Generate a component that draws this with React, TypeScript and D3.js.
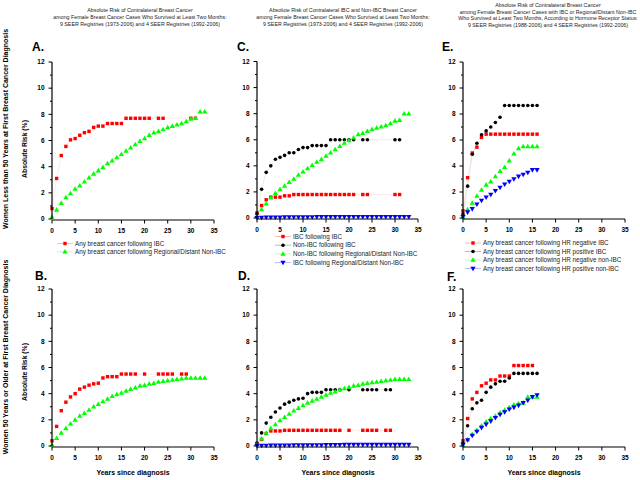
import React from "react";
import * as d3 from "d3";

type V = number | null;

// ---------- data ----------
const yTicks = [0, 2, 4, 6, 8, 10, 12];
const xTicks = [0, 5, 10, 15, 20, 25, 30, 35];

// Panel A (women < 50)
const aIBC: V[] = [0.8, 3.1, 4.85, 5.55, 6.05, 6.15, 6.4, 6.6, 6.7, 7.0, 7.1, 7.1, 7.3, 7.3, 7.3, 7.3, 7.7, 7.7, 7.7, 7.7, 7.7, 7.7, null, 7.7, 7.7, null, null, null, null, null, 7.7, 7.7];
const aNonIBC: V[] = [0.15, 0.7, 1.2, 1.65, 1.95, 2.3, 2.55, 2.85, 3.15, 3.45, 3.7, 3.95, 4.25, 4.45, 4.7, 4.95, 5.2, 5.45, 5.7, 5.95, 6.15, 6.4, 6.6, 6.7, 6.85, 7.0, 7.1, 7.2, 7.3, 7.45, 7.65, 7.7, 8.2, 8.2];

// Panel B (women >= 50)
const bIBC: V[] = [0.4, 1.5, 2.7, 3.35, 3.75, 4.0, 4.35, 4.5, 4.65, 4.75, 4.8, 5.2, 5.3, 5.3, 5.3, 5.5, 5.5, 5.5, 5.5, null, 5.5, null, null, 5.5, 5.5, 5.5, 5.5, null, 5.5, 5.5];
const bNonIBC: V[] = [0.1, 0.6, 1.0, 1.35, 1.7, 2.0, 2.3, 2.5, 2.75, 3.0, 3.2, 3.4, 3.6, 3.8, 3.95, 4.05, 4.2, 4.35, 4.45, 4.6, 4.65, 4.75, 4.8, 4.9, 4.95, 5.0, 5.05, 5.1, 5.15, 5.2, 5.2, 5.2, 5.2, 5.2];

// Panel C (women < 50)
const cIBCfIBC: V[] = [0.4, 0.95, 1.4, 1.6, 1.6, 1.6, 1.7, 1.7, 1.8, 1.8, 1.8, 1.8, 1.8, 1.8, 1.8, 1.8, 1.8, 1.8, 1.8, 1.8, 1.8, 1.8, null, 1.8, 1.8, null, null, null, null, null, 1.8, 1.8];
const cNonfIBC: V[] = [0.3, 2.2, 3.5, 4.0, 4.5, 4.65, 4.8, 5.0, 5.0, 5.25, 5.4, 5.4, 5.55, 5.55, 5.55, 5.55, 6.0, 6.0, 6.0, 6.0, 6.0, 6.0, null, 6.0, 6.0, null, null, null, null, null, 6.0, 6.0];
const cNonfNon: V[] = [0.1, 0.65, 1.1, 1.55, 1.9, 2.2, 2.45, 2.75, 3.0, 3.3, 3.55, 3.8, 4.05, 4.3, 4.5, 4.75, 5.0, 5.25, 5.5, 5.75, 5.95, 6.15, 6.4, 6.5, 6.65, 6.8, 6.9, 7.0, 7.1, 7.25, 7.45, 7.5, 8.0, 8.0];
const cIBCfNon: V[] = [0.02, 0.04, 0.05, 0.05, 0.06, 0.06, 0.07, 0.07, 0.07, 0.08, 0.08, 0.08, 0.08, 0.09, 0.09, 0.09, 0.09, 0.09, 0.1, 0.1, 0.1, 0.1, 0.1, 0.1, 0.1, 0.1, 0.1, 0.1, 0.1, 0.1, 0.1, 0.1, 0.1, 0.1];

// Panel D (women >= 50)
const dIBCfIBC: V[] = [0.2, 0.5, 0.95, 1.15, 1.15, 1.15, 1.2, 1.2, 1.2, 1.2, 1.2, 1.2, 1.2, 1.2, 1.2, 1.2, 1.2, 1.2, 1.2, null, 1.2, null, null, 1.2, 1.2, 1.2, 1.2, null, 1.2, 1.2];
const dNonfIBC: V[] = [0.2, 1.0, 1.75, 2.2, 2.6, 2.9, 3.2, 3.35, 3.5, 3.6, 3.65, 4.0, 4.1, 4.1, 4.1, 4.3, 4.3, 4.3, 4.3, null, 4.3, null, null, 4.3, 4.3, 4.3, 4.3, null, 4.3, 4.3];
const dNonfNon: V[] = [0.15, 0.55, 1.0, 1.35, 1.65, 1.95, 2.2, 2.45, 2.7, 2.9, 3.1, 3.3, 3.45, 3.6, 3.75, 3.9, 4.05, 4.15, 4.3, 4.4, 4.5, 4.6, 4.65, 4.75, 4.8, 4.85, 4.9, 4.95, 5.0, 5.05, 5.1, 5.1, 5.1, 5.1];
const dIBCfNon: V[] = [0.02, 0.03, 0.04, 0.05, 0.05, 0.06, 0.06, 0.06, 0.07, 0.07, 0.07, 0.08, 0.08, 0.08, 0.08, 0.09, 0.09, 0.09, 0.09, 0.1, 0.1, 0.1, 0.1, 0.1, 0.1, 0.1, 0.1, 0.1, 0.1, 0.1, 0.1, 0.1, 0.1, 0.1];

// Panel E (women < 50, hormone receptor status)
const eHRnegIBC: V[] = [0.55, 3.1, 5.0, 5.45, 6.2, 6.45, 6.45, 6.45, 6.45, 6.45, 6.45, 6.45, 6.45, 6.45, 6.45, 6.45, 6.45];
const eHRposIBC: V[] = [0.3, 2.45, 4.9, 5.75, 6.4, 6.7, 7.0, 7.35, 7.75, 8.65, 8.65, 8.65, 8.65, 8.65, 8.65, 8.65, 8.65];
const eHRnegNon: V[] = [0.05, 0.65, 1.15, 1.7, 2.15, 2.55, 2.8, 3.2, 3.6, 3.9, 4.4, 4.95, 5.35, 5.5, 5.5, 5.5, 5.5];
const eHRposNon: V[] = [0.1, 0.45, 0.7, 1.05, 1.35, 1.6, 1.8, 2.1, 2.35, 2.6, 2.8, 3.0, 3.2, 3.35, 3.5, 3.7, 3.7];

// Panel F (women >= 50, hormone receptor status)
const fHRnegIBC: V[] = [0.4, 2.1, 3.6, 4.1, 4.6, 4.8, 5.05, 5.05, 5.35, 5.35, 5.35, 6.15, 6.15, 6.15, 6.15, 6.15];
const fHRposIBC: V[] = [0.2, 1.55, 2.85, 3.3, 3.5, 4.1, 4.5, 4.75, 4.95, 4.95, 5.2, 5.55, 5.55, 5.55, 5.55, 5.55, 5.55];
const fHRnegNon: V[] = [0.05, 0.5, 0.9, 1.2, 1.55, 1.85, 2.1, 2.3, 2.55, 2.75, 2.95, 3.15, 3.25, 3.3, 3.75, 3.75, 3.75];
const fHRposNon: V[] = [0.1, 0.45, 0.8, 1.1, 1.4, 1.65, 1.9, 2.15, 2.4, 2.6, 2.8, 2.95, 3.1, 3.3, 3.5, 3.75, 3.9];

const legendAB = ["Any breast cancer following IBC", "Any breast cancer following Regional/Distant Non-IBC"];
const legendCD = ["IBC following IBC", "Non-IBC following IBC", "Non-IBC following Regional/Distant Non-IBC", "IBC following Regional/Distant Non-IBC"];
const legendEF = ["Any breast cancer following HR negative IBC", "Any breast cancer following HR positive IBC", "Any breast cancer following HR negative non-IBC", "Any breast cancer following HR positive non-IBC"];

const titleA = ["Absolute Risk of Contralateral Breast Cancer", "among Female Breast Cancer Cases Who Survived at Least Two Months:", "9 SEER Registries (1973-2006) and 4 SEER Registries (1992-2006)"];
const titleC = ["Absolute Risk of Contralateral IBC and Non-IBC Breast Cancer", "among Female Breast Cancer Cases Who Survived at Least Two Months:", "9 SEER Registries (1973-2006) and 4 SEER Registries (1992-2006)"];
const titleE = ["Absolute Risk of Contralateral Breast Cancer", "among Female Breast Cancer Cases with IBC or Regional/Distant Non-IBC", "Who Survived at Least Two Months, According to Hormone Receptor Status:", "9 SEER Registries (1988-2006) and 4 SEER Registries (1992-2006)"];

// ---------- styles ----------
type Shape = "square" | "circle" | "triUp" | "triDown";
const RED = "#ff0000", BLACK = "#000000", GREEN = "#00ff00", BLUE = "#0000ff";
const FONT = "'Liberation Sans', Arial, Helvetica, sans-serif";

interface Series { values: V[]; color: string; shape: Shape }

function Marker({ x, y, shape, color }: { x: number; y: number; shape: Shape; color: string }) {
  if (shape === "square") return <rect x={x - 1.7} y={y - 1.7} width={3.4} height={3.4} fill={color} />;
  if (shape === "circle") return <circle cx={x} cy={y} r={1.8} fill={color} />;
  const sym = d3.symbol().type(d3.symbolTriangle).size(12)();
  return <path d={sym || ""} transform={`translate(${x},${y + (shape === "triDown" ? -0.3 : 0.3)}) rotate(${shape === "triDown" ? 180 : 0})`} fill={color} />;
}

interface PanelProps {
  x0: number; x1: number; yTop: number; yBot: number;
  series: Series[]; letter: string; lx: number; ly: number;
}

function Panel({ x0, x1, yTop, yBot, series, letter, lx, ly }: PanelProps) {
  const xs = d3.scaleLinear().domain([0, 35]).range([x0, x1]);
  const ys = d3.scaleLinear().domain([0, 12]).range([yBot, yTop]);
  const minor = d3.range(0, 13, 1);
  return (
    <g>
      <text x={lx} y={ly} fontSize={12} fontWeight="bold" fontFamily={FONT}>{letter}</text>
      {series.map((s, si) => {
        const pts = s.values.map((v, i) => (v == null ? null : [i, v] as [number, number])).filter(Boolean) as [number, number][];
        const line = d3.line<[number, number]>().x((d) => xs(d[0])).y((d) => ys(d[1]));
        return (
          <g key={si}>
            <path d={line(pts) || ""} fill="none" stroke={s.color} strokeOpacity={0.15} strokeWidth={0.6} />
            {pts.map((p, i) => <Marker key={i} x={xs(p[0])} y={ys(p[1])} shape={s.shape} color={s.color} />)}
          </g>
        );
      })}
      {/* y axis */}
      <line x1={x0} x2={x0} y1={ys(0)} y2={ys(12)} stroke="#000" strokeWidth={1.2} />
      {minor.map((t) => (
        <line key={t} x1={x0 - (t % 2 === 0 ? 3.5 : 2)} x2={x0} y1={ys(t)} y2={ys(t)} stroke="#000" strokeWidth={1} />
      ))}
      {yTicks.map((t) => (
        <text key={t} x={x0 - 7.5} y={ys(t)} dy="0.35em" textAnchor="end" fontSize={6.5} fontWeight="bold" fontFamily={FONT}>{t}</text>
      ))}
      {/* x axis */}
      <line x1={xs(0)} x2={xs(35)} y1={yBot + 1} y2={yBot + 1} stroke="#000" strokeWidth={1.2} />
      {xTicks.map((t) => (
        <g key={t}>
          <line x1={xs(t)} x2={xs(t)} y1={yBot + 1} y2={yBot + 4.5} stroke="#000" strokeWidth={1} />
          <text x={xs(t)} y={yBot + 13.5} textAnchor="middle" fontSize={6.5} fontWeight="bold" fontFamily={FONT}>{t}</text>
        </g>
      ))}
    </g>
  );
}

function Legend({ x, y, dy, labels, series }: { x: number; y: number; dy: number; labels: string[]; series: Series[] }) {
  return (
    <g>
      {labels.map((l, i) => (
        <g key={i}>
          <line x1={x - 8} x2={x + 8} y1={y + i * dy} y2={y + i * dy} stroke={series[i].color} strokeOpacity={0.35} strokeWidth={0.8} />
          <Marker x={x} y={y + i * dy} shape={series[i].shape} color={series[i].color} />
          <text x={x + 10} y={y + i * dy} dy="0.35em" fontSize={6.3} fontFamily={FONT} fill="#222">{l}</text>
        </g>
      ))}
    </g>
  );
}

function Title({ cx, y, lines, dy }: { cx: number; y: number; lines: string[]; dy: number }) {
  return (
    <g>
      {lines.map((l, i) => (
        <text key={i} x={cx} y={y + i * dy} textAnchor="middle" fontSize={5.3} fontFamily={FONT} fill="#222">{l}</text>
      ))}
    </g>
  );
}

export default function App() {
  const sAB = (ibc: V[], non: V[]): Series[] => [
    { values: ibc, color: RED, shape: "square" },
    { values: non, color: GREEN, shape: "triUp" },
  ];
  const sCD = (a: V[], b: V[], c: V[], d: V[]): Series[] => [
    { values: a, color: RED, shape: "square" },
    { values: b, color: BLACK, shape: "circle" },
    { values: c, color: GREEN, shape: "triUp" },
    { values: d, color: BLUE, shape: "triDown" },
  ];
  const A = sAB(aIBC, aNonIBC), B = sAB(bIBC, bNonIBC);
  const C = sCD(cIBCfIBC, cNonfIBC, cNonfNon, cIBCfNon), D = sCD(dIBCfIBC, dNonfIBC, dNonfNon, dIBCfNon);
  const E = sCD(eHRnegIBC, eHRposIBC, eHRnegNon, eHRposNon), F = sCD(fHRnegIBC, fHRposIBC, fHRnegNon, fHRposNon);

  return (
    <svg width={640} height={480} style={{ position: "absolute", left: 0, top: 0, background: "#fff" }}>
      <rect width={640} height={480} fill="#fff" />
      <Title cx={140} y={12} lines={titleA} dy={7} />
      <Title cx={343} y={12} lines={titleC} dy={7} />
      <Title cx={548} y={7} lines={titleE} dy={6.7} />

      <Panel x0={52} x1={214} yTop={62} yBot={219} series={A} letter="A." lx={32} ly={51} />
      <Panel x0={52} x1={214} yTop={289} yBot={446} series={B} letter="B." lx={35} ly={280} />
      <Panel x0={257} x1={418} yTop={61.5} yBot={218} series={C} letter="C." lx={237} ly={51} />
      <Panel x0={257} x1={418} yTop={289} yBot={446} series={D} letter="D." lx={238} ly={280} />
      <Panel x0={463} x1={625} yTop={62} yBot={218} series={E} letter="E." lx={442} ly={51} />
      <Panel x0={463} x1={625} yTop={289} yBot={446} series={F} letter="F." lx={447} ly={281} />

      <Legend x={65} y={243.5} dy={8.3} labels={legendAB} series={A} />
      <Legend x={283} y={236.5} dy={8.7} labels={legendCD} series={C} />
      <Legend x={473} y={243} dy={8.5} labels={legendEF} series={E} />

      {/* row labels */}
      <text transform="translate(7.5,129) rotate(-90)" textAnchor="middle" fontSize={7} fontWeight="bold" fontFamily={FONT}>Women Less than 50 Years at First Breast Cancer Diagnosis</text>
      <text transform="translate(7.5,357) rotate(-90)" textAnchor="middle" fontSize={7} fontWeight="bold" fontFamily={FONT}>Women 50 Years or Older at First Breast Cancer Diagnosis</text>
      <text transform="translate(26.5,149) rotate(-90)" textAnchor="middle" fontSize={6.8} fontWeight="bold" fontFamily={FONT}>Absolute Risk (%)</text>
      <text transform="translate(26.5,372) rotate(-90)" textAnchor="middle" fontSize={6.8} fontWeight="bold" fontFamily={FONT}>Absolute Risk (%)</text>

      <text x={133} y={475} textAnchor="middle" fontSize={7} fontWeight="bold" fontFamily={FONT}>Years since diagnosis</text>
      <text x={338} y={475} textAnchor="middle" fontSize={7} fontWeight="bold" fontFamily={FONT}>Years since diagnosis</text>
      <text x={544} y={475} textAnchor="middle" fontSize={7} fontWeight="bold" fontFamily={FONT}>Years since diagnosis</text>
    </svg>
  );
}
